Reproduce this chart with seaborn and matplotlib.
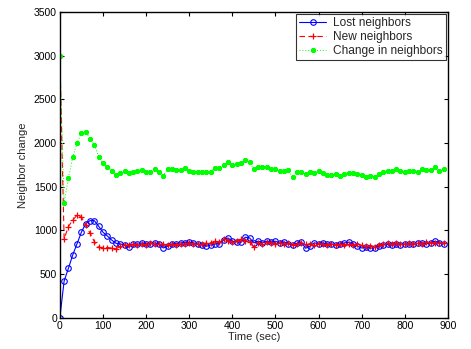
import numpy as np
import pandas as pd
import matplotlib
matplotlib.use("Agg")
import matplotlib.pyplot as plt
import seaborn as sns

# Sampling instants (s)
time_sec = list(range(0, 900, 10))

lost_neighbors = [
    0, 423, 568, 721, 850, 980, 1079, 1113, 1113, 1049,
    980, 938, 892, 854, 846, 835, 809, 846, 840, 858,
    850, 846, 858, 846, 800, 820, 846, 850, 858, 862,
    866, 858, 846, 838, 820, 835, 846, 850, 890, 915,
    877, 870, 866, 923, 915, 858, 877, 862, 877, 866,
    877, 858, 870, 846, 835, 852, 870, 797, 820, 858,
    850, 858, 840, 846, 835, 846, 858, 866, 850, 820,
    800, 815, 797, 805, 820, 835, 840, 835, 846, 838,
    846, 850, 842, 852, 858, 848, 858, 877, 862, 846,
]

new_neighbors = [
    3000, 904, 1045, 1121, 1175, 1152, 1064, 969, 873, 808,
    805, 805, 800, 789, 820, 835, 830, 840, 835, 846,
    838, 858, 846, 840, 850, 835, 846, 838, 850, 846,
    858, 850, 842, 846, 858, 852, 877, 866, 897, 885,
    870, 880, 897, 885, 870, 808, 858, 846, 866, 858,
    846, 858, 840, 852, 835, 846, 858, 840, 846, 835,
    850, 842, 835, 846, 830, 846, 838, 850, 835, 842,
    830, 820, 828, 815, 835, 846, 852, 846, 858, 846,
    840, 852, 846, 858, 850, 866, 858, 862, 852, 858,
]

change_in_neighbors = [
    3000, 1319, 1598, 1838, 2002, 2116, 2128, 2048, 1979, 1845,
    1770, 1731, 1685, 1632, 1655, 1678, 1655, 1670, 1678, 1693,
    1666, 1666, 1704, 1674, 1628, 1700, 1700, 1689, 1693, 1716,
    1685, 1670, 1674, 1674, 1674, 1674, 1712, 1712, 1746, 1780,
    1750, 1761, 1770, 1807, 1782, 1700, 1723, 1731, 1723, 1704,
    1700, 1678, 1678, 1689, 1609, 1674, 1670, 1651, 1670, 1659,
    1685, 1662, 1636, 1632, 1651, 1628, 1643, 1662, 1655, 1643,
    1636, 1617, 1628, 1613, 1647, 1674, 1678, 1685, 1700, 1685,
    1670, 1685, 1678, 1670, 1708, 1689, 1693, 1731, 1681, 1704,
]

x_ticks = list(range(0, 901, 100))
y_ticks = list(range(0, 3501, 500))

sns.set_theme(style="white")
plt.rcParams["font.family"] = ["Liberation Sans", "DejaVu Sans"]
plt.rcParams["font.size"] = 8

fig = plt.figure(figsize=(4.71, 3.49), dpi=100)
ax = fig.add_axes([0.127, 0.089, 0.824, 0.877])

sns.lineplot(x=time_sec, y=lost_neighbors, ax=ax, color="#0000ff",
             linestyle="-", linewidth=0.8, marker="o", markersize=4,
             markerfacecolor="none", markeredgecolor="#0000ff",
             markeredgewidth=0.8, label="Lost neighbors")
sns.lineplot(x=time_sec, y=new_neighbors, ax=ax, color="#ff0000",
             linestyle=(0, (5, 3)), linewidth=0.8, marker="+", markersize=5,
             markeredgecolor="#ff0000", markeredgewidth=0.9,
             label="New neighbors")
sns.lineplot(x=time_sec, y=change_in_neighbors, ax=ax, color="#00ff00",
             linestyle=(0, (1, 2)), linewidth=0.7, marker=(8, 2, 0),
             markersize=3.6, markeredgecolor="#00ff00", markeredgewidth=1.1,
             label="Change in neighbors")

ax.set_xlim(0, 900)
ax.set_ylim(0, 3500)
ax.set_xticks(x_ticks)
ax.set_yticks(y_ticks)
ax.set_xlabel("Time (sec)", fontsize=8, labelpad=1)
ax.set_ylabel("Neighbor change", fontsize=8, labelpad=4)

for side in ax.spines.values():
    side.set_visible(True)
    side.set_color("black")
    side.set_linewidth(1.0)
ax.tick_params(direction="in", length=3, width=0.8, top=True, right=True,
               bottom=True, left=True, labelsize=7.5, pad=2, colors="black")
ax.grid(False)

leg = ax.legend(loc="upper right", fontsize=8.6, frameon=True, fancybox=False,
                edgecolor="black", borderaxespad=0.15, handlelength=2.2,
                labelspacing=0.15, borderpad=0.3, handletextpad=0.6)
leg.get_frame().set_linewidth(0.8)

fig.savefig("out.png", dpi=100)
